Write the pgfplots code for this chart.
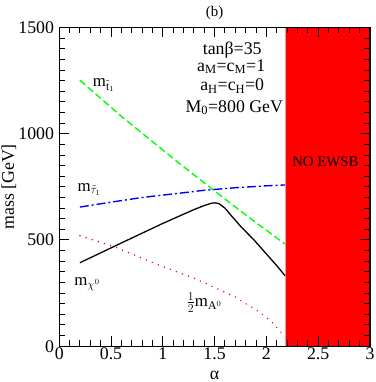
\documentclass[border=0pt]{standalone}
\usepackage{fontspec}
\setmainfont{Liberation Serif}
\usepackage{pgfplots}
\pgfplotsset{compat=1.18}

\pgfplotstableread{
x y
0.2 1252
0.6 1082
1.138 869
1.504 729
1.8 618
2.18 481
}\stopone
\pgfplotstableread{
x y
0.2 655
0.5 678
0.8 700
1.121 718
1.4 734
1.7 746
2.0 755
2.18 759
}\stauone
\pgfplotstableread{
x y
0.2 393
0.6 486
1.0 578
1.3 643
1.4 662
1.46 672
1.5 675
1.54 672
1.6 650
1.664 613
1.75 565
1.886 497
2.0 434
2.1 379
2.18 332
}\neutralino
\pgfplotstableread{
x y
0.2 520
0.548 465
0.93 388
1.312 318
1.695 233
1.95 155
2.06 110
2.16 54
}\halfma

\begin{document}
\fontsize{18}{21}\selectfont
\begin{tikzpicture}
\begin{axis}[
  scale only axis,
  width=314pt, height=322pt,
  xmin=0, xmax=3, ymin=0, ymax=1500,
  xtick={0,0.5,1,1.5,2,2.5,3},
  ytick={0,500,1000,1500},
  minor x tick num=4,
  minor y tick num=9,
  tick align=inside,
  major tick length=10pt,
  minor tick length=6pt,
  axis line style={line width=1.2pt},
  every tick/.style={black, line width=1pt},
  /pgf/number format/assume math mode=true,
  /pgf/number format/1000 sep={},
  xticklabel style={inner sep=1pt},
  yticklabel style={xshift=1pt},
  xlabel={α},
  ylabel={mass [GeV]},
  every axis x label/.style={at={(axis description cs:0.5,-0.091)}, anchor=center, inner xsep=1pt, inner ysep=2.5pt},
  every axis y label/.style={at={(axis description cs:-0.162,0.5)}, anchor=center, rotate=90, inner sep=1.5pt},
  title={(b)},
  title style={font=\fontsize{15}{17}\selectfont, yshift=-4pt},
  axis on top,
]
\addplot[fill=red, draw=red!40, line width=0.5pt] coordinates {(2.18,1500) (3,1500)} \closedcycle;

\addplot[green, line width=1.4pt, dash pattern=on 7pt off 3.5pt] table {\stopone};
\addplot[blue, line width=1.4pt, dash pattern=on 9pt off 3pt on 2pt off 3pt] table {\stauone};
\addplot[black, line width=1.3pt] table {\neutralino};
\addplot[red, line width=1.6pt, dash pattern=on 0.1pt off 6.4pt, line cap=round] table {\halfma};

\node[font=\fontsize{17}{19}\selectfont] at (axis cs:0.43,1228) {m$_{\tilde{\mathrm{t}}_1}$};
\node[font=\fontsize{17}{19}\selectfont] at (axis cs:0.29,738) {m$_{\tilde{\tau}_1}$};
\node[font=\fontsize{17}{19}\selectfont] at (axis cs:0.27,292) {m$_{\chi^0}$};
\node[font=\fontsize{17}{19}\selectfont] at (axis cs:1.40,205) {$\frac{1}{2}$m$_{\mathrm{A}^0}$};

\node[anchor=base] at (axis cs:1.67,1373) {tanβ=35};
\node[anchor=base] at (axis cs:1.66,1295) {a\textsubscript{M}=c\textsubscript{M}=1};
\node[anchor=base] at (axis cs:1.67,1203) {a\textsubscript{H}=c\textsubscript{H}=0};
\node[anchor=base] at (axis cs:1.69,1102) {M\textsubscript{0}=800 GeV};
\node[anchor=base, font=\fontsize{15}{17}\selectfont] at (axis cs:2.57,846) {NO EWSB};
\end{axis}
\end{tikzpicture}
\end{document}
